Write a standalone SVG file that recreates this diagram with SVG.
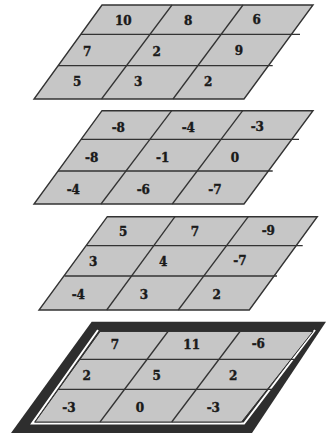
<svg xmlns="http://www.w3.org/2000/svg" width="326" height="433" viewBox="0 0 326 433">
<style>
.bg{fill:#ffffff}
.cell{fill:#c6c6c6;stroke:#333;stroke-width:1.4;stroke-linejoin:miter}
.ln{stroke:#333;stroke-width:1.3;fill:none}
.t{font-family:"DejaVu Serif","Liberation Serif",serif;font-weight:bold;font-size:12px;fill:#1a1a1a;stroke:#1a1a1a;stroke-width:0.4;text-anchor:middle}
.frame{fill:#2e2e2e}
.hl{fill:none;stroke:#ffffff;stroke-width:2}
</style>
<rect class="bg" x="0" y="0" width="326" height="433"/>

<g id="layer1">
<polygon class="cell" points="102,5 313,5 244,99 34,99"/>
<line class="ln" x1="81" y1="34.3" x2="300" y2="34.3"/>
<line class="ln" x1="58" y1="65.7" x2="272.7" y2="65.7"/>
<line class="ln" x1="172" y1="5" x2="101.5" y2="99"/>
<line class="ln" x1="243" y1="5" x2="173" y2="99"/>
<text class="t" x="123.3" y="25">10</text>
<text class="t" x="188.3" y="25">8</text>
<text class="t" x="256.7" y="24.3">6</text>
<text class="t" x="87.3" y="56">7</text>
<text class="t" x="156.7" y="56">2</text>
<text class="t" x="239" y="55">9</text>
<text class="t" x="77.3" y="86">5</text>
<text class="t" x="138.3" y="86">3</text>
<text class="t" x="208.3" y="86">2</text>
</g>

<g id="layer2">
<polygon class="cell" points="102,110.7 313,110.7 244,204 34,204"/>
<line class="ln" x1="81" y1="139.3" x2="299" y2="139.3"/>
<line class="ln" x1="58" y1="171" x2="272.7" y2="171"/>
<line class="ln" x1="171.7" y1="110.7" x2="101" y2="204"/>
<line class="ln" x1="242.7" y1="110.7" x2="172.3" y2="204"/>
<text class="t" x="118.3" y="131.6">-8</text>
<text class="t" x="188.3" y="131.6">-4</text>
<text class="t" x="257.3" y="131">-3</text>
<text class="t" x="91.7" y="161.6">-8</text>
<text class="t" x="162.7" y="161.6">-1</text>
<text class="t" x="235" y="161.6">0</text>
<text class="t" x="73.3" y="194.3">-4</text>
<text class="t" x="143.3" y="194.3">-6</text>
<text class="t" x="215" y="193.6">-7</text>
</g>

<g id="layer3">
<polygon class="cell" points="107.3,216.7 317.3,216.7 249.3,310 39,310"/>
<line class="ln" x1="86.5" y1="245.7" x2="302.7" y2="245.7"/>
<line class="ln" x1="64.5" y1="276" x2="277" y2="276"/>
<line class="ln" x1="175" y1="216.7" x2="106.7" y2="310"/>
<line class="ln" x1="248.3" y1="216.7" x2="178.3" y2="310"/>
<text class="t" x="123.3" y="236">5</text>
<text class="t" x="195" y="236">7</text>
<text class="t" x="268.3" y="235.3">-9</text>
<text class="t" x="93.3" y="266">3</text>
<text class="t" x="163.3" y="266">4</text>
<text class="t" x="240" y="265.3">-7</text>
<text class="t" x="78.3" y="299.3">-4</text>
<text class="t" x="144" y="299.3">3</text>
<text class="t" x="216.7" y="298.6">2</text>
</g>

<g id="result">
<polygon class="frame" points="91.7,321.7 326,321.7 252,433 11,433"/>
<polyline class="hl" points="98,330 32,423.5 244,423.5 315,330"/>
<polygon class="cell" points="100,331.5 313,331.5 241.5,422 35,422" style="stroke-width:1"/>
<line class="ln" x1="80" y1="359.3" x2="294" y2="359.3"/>
<line class="ln" x1="58.5" y1="389.3" x2="273" y2="389.3"/>
<line class="ln" x1="168" y1="331.5" x2="100" y2="422"/>
<line class="ln" x1="240" y1="331.5" x2="171.7" y2="422"/>
<text class="t" x="115" y="348.6">7</text>
<text class="t" x="191.7" y="348.6">11</text>
<text class="t" x="258.3" y="347.6">-6</text>
<text class="t" x="86.7" y="380.3">2</text>
<text class="t" x="156.7" y="380.3">5</text>
<text class="t" x="233.3" y="380.3">2</text>
<text class="t" x="69" y="411.6">-3</text>
<text class="t" x="140" y="411.6">0</text>
<text class="t" x="213.3" y="411.6">-3</text>
</g>
</svg>
